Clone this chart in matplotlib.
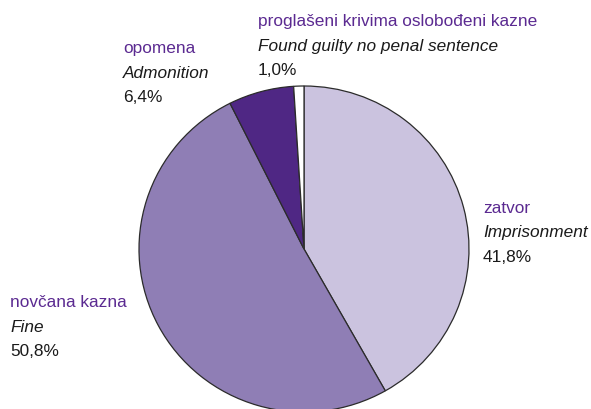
import matplotlib
matplotlib.use("Agg")
import matplotlib.pyplot as plt

plt.rcParams['font.family'] = ['Liberation Sans', 'DejaVu Sans']

# data, clockwise from 12 o'clock
labels_hr = ["zatvor", "novčana kazna", "opomena", "proglašeni krivima oslobođeni kazne"]
labels_en = ["Imprisonment", "Fine", "Admonition", "Found guilty no penal sentence"]
shares = [41.8, 50.8, 6.4, 1.0]
colors = ["#cbc3df", "#8f7eb5", "#4f2784", "#ffffff"]

# label anchor (left, first baseline) in pixels
label_pos = [(483, 213), (10, 307), (123, 53), (258, 26)]

W, H = 591, 409
fig = plt.figure(figsize=(W / 100, H / 100), dpi=100)

cx, cy, rx, ry = 304, 249, 165, 163
ax = fig.add_axes([(cx - rx) / W, (H - cy - ry) / H, 2 * rx / W, 2 * ry / H])
ax.pie(shares, colors=colors, startangle=90, counterclock=False, radius=1,
       wedgeprops=dict(edgecolor="#2b2b2b", linewidth=0.9))
ax.set_xlim(-1, 1)
ax.set_ylim(-1, 1)
ax.set_aspect("auto")
ax.axis("off")

fs = 12.4
step = 24.5
for hr, en, v, (x, y) in zip(labels_hr, labels_en, shares, label_pos):
    fig.text(x / W, 1 - y / H, hr, color="#5b2a91", fontsize=fs, va="baseline", ha="left")
    fig.text(x / W, 1 - (y + step) / H, en, color="#1a1a1a", fontsize=fs, style="italic", va="baseline", ha="left")
    fig.text(x / W, 1 - (y + 2 * step) / H, f"{v:.1f}%".replace(".", ","), color="#1a1a1a", fontsize=fs, va="baseline", ha="left")

fig.savefig("out.png", dpi=100)
